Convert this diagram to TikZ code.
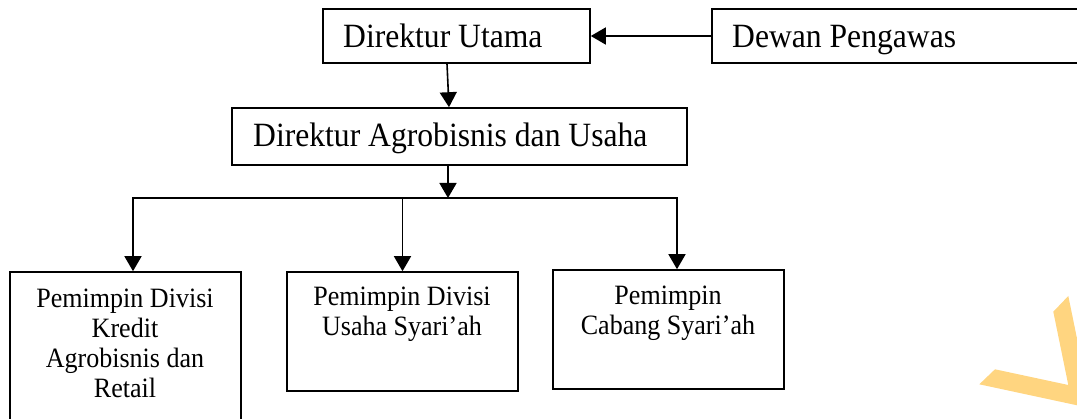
\documentclass[tikz,border=0pt]{standalone}
\usepackage{fontspec}
\setmainfont{Liberation Serif}
\newfontfamily\narrowserif[FakeStretch=0.93]{Liberation Serif}
\usetikzlibrary{arrows.meta,calc}
\definecolor{marker}{RGB}{255,213,128}
\begin{document}
\begin{tikzpicture}[x=1pt,y=-1pt,
  box/.style={draw=black, line width=1.6pt, rectangle, inner sep=0pt},
  toplabel/.style={anchor=base west, inner sep=0pt, font=\narrowserif\fontsize{34}{40}\selectfont},
  unitlabel/.style={anchor=base, inner sep=0pt, align=center, font=\narrowserif\fontsize{28}{30.3}\selectfont},
  link/.style={line width=1.6pt, -{Triangle[length=15pt,width=17pt]}},
  wire/.style={line width=1.6pt, line cap=rect}]
\useasboundingbox (0,0) rectangle (1077,419);
\clip (0,0) rectangle (1077,419);

% boxes
\node[box, minimum width=267pt, minimum height=54pt] (du) at (456.5,36) {};
\node[box, minimum width=388pt, minimum height=54pt] (dp) at (906,36) {};
\node[box, minimum width=455pt, minimum height=57pt] (da) at (459.5,136.5) {};
\node[box, minimum width=231pt, minimum height=168pt] (k1) at (125.5,356) {};
\node[box, minimum width=231pt, minimum height=119pt] (k2) at (402.5,331.5) {};
\node[box, minimum width=231pt, minimum height=119pt] (k3) at (668.5,329.5) {};

% labels (multi-line labels sit on the baseline of their last line)
\node[toplabel] (tdu) at (343,48) {Direktur Utama};
\node[toplabel] (tdp) at (732,48) {Dewan Pengawas};
\node[toplabel] (tda) at (253,147) {Direktur Agrobisnis dan Usaha};
\node[unitlabel] (tk1) at (125,398) {Pemimpin Divisi\\Kredit\\Agrobisnis dan\\Retail};
\node[unitlabel] (tk2) at (402,336) {Pemimpin Divisi\\Usaha Syari’ah};
\node[unitlabel] (tk3) at (668,335) {Pemimpin\\Cabang Syari’ah};

% connectors
\draw[link] (dp.west) -- (du.east);
\draw[link] ([xshift=-9.5pt]du.south) -- ([xshift=-10.5pt]da.north);
\coordinate (bus) at (448,198);
\coordinate (busL) at (133,198);
\coordinate (busR) at (677,198);
\draw[link] ([xshift=-11.5pt]da.south) -- (bus);
\draw[wire] (busL) -- (busR);
\draw[link] (busL) -- (k1.north -| busL);
\draw[link] (bus -| k2.north) -- (k2.north);
\draw[link] (busR) -- (k3.north -| busR);

% corner mark
\fill[marker] (979.3,384.3) -- (995,369.3) -- (1068.3,385) -- (1053.3,311.7)
  -- (1068.3,296) -- (1085,377.6) -- (1085,407) -- cycle;
\end{tikzpicture}
\end{document}
